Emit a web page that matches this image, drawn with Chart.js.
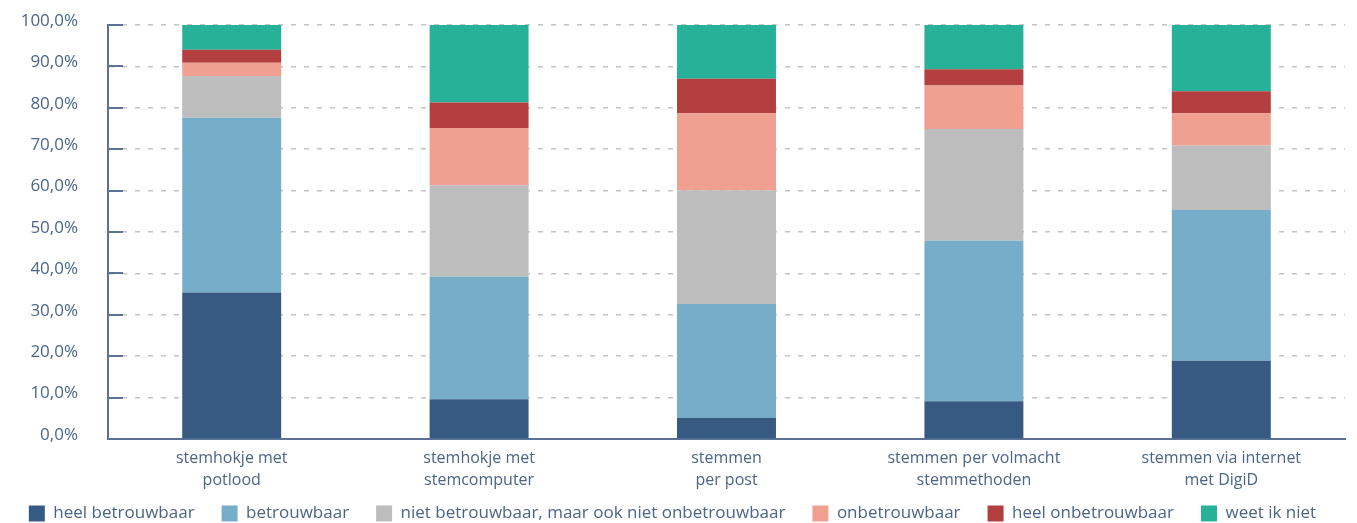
<!DOCTYPE html>
<html>
<head>
    <meta charset="UTF-8">
    <title>Betrouwbaarheid stemmethoden</title>
    <style>
        body {
            margin: 0;
            padding: 0;
            background: #fff;
        }
        .wrap {
            width: 1357px;
            height: 523px;
        }
    </style>
</head>
<body>
    <div class="wrap">
        <canvas id="stemChart" width="1357" height="523"></canvas>
    </div>

    <script src="https://cdn.jsdelivr.net/npm/chart.js"></script>
    <script>
        const categories = [
            ['stemhokje met', 'potlood'],
            ['stemhokje met', 'stemcomputer'],
            ['stemmen', 'per post'],
            ['stemmen per volmacht', 'stemmethoden'],
            ['stemmen via internet', 'met DigiD']
        ];
        const seriesNames = [
            'heel betrouwbaar',
            'betrouwbaar',
            'niet betrouwbaar, maar ook niet onbetrouwbaar',
            'onbetrouwbaar',
            'heel onbetrouwbaar',
            'weet ik niet'
        ];
        const heelBetrouwbaar = [35.4, 9.6, 5.1, 9.1, 18.9];
        const betrouwbaar = [42.2, 29.6, 27.5, 38.8, 36.4];
        const neutraal = [10.1, 22.1, 27.5, 27.0, 15.6];
        const onbetrouwbaar = [3.2, 13.8, 18.6, 10.5, 7.8];
        const heelOnbetrouwbaar = [3.1, 6.2, 8.3, 3.9, 5.3];
        const weetIkNiet = [6.0, 18.7, 13.0, 10.7, 16.0];
        const yTicks = [0, 10, 20, 30, 40, 50, 60, 70, 80, 90, 100];

        const colors = ['#375a82', '#76adc8', '#bdbdbd', '#efa091', '#b33f40', '#28b199'];
        const textColor = '#4b6587';
        const axisColor = '#5a7296';

        const allSeries = [heelBetrouwbaar, betrouwbaar, neutraal, onbetrouwbaar, heelOnbetrouwbaar, weetIkNiet];

        // kleine streepjes aan de binnenkant van de y-as
        const innerTicks = {
            id: 'innerTicks',
            afterDraw(chart) {
                const y = chart.scales.y;
                const left = chart.chartArea.left;
                const ctx = chart.ctx;
                ctx.save();
                ctx.strokeStyle = axisColor;
                ctx.lineWidth = 2;
                y.ticks.forEach(t => {
                    const py = Math.round(y.getPixelForValue(t.value));
                    ctx.beginPath();
                    ctx.moveTo(left, py);
                    ctx.lineTo(left + 15, py);
                    ctx.stroke();
                });
                ctx.restore();
            }
        };

        // legenda iets omhoog, dichter bij de as-labels
        const legendShift = {
            id: 'legendShift',
            afterLayout(chart) {
                chart.legend.top -= 17;
                chart.legend.bottom -= 17;
            }
        };

        const ctx = document.getElementById('stemChart').getContext('2d');
        new Chart(ctx, {
            type: 'bar',
            data: {
                labels: categories,
                datasets: allSeries.map((vals, i) => ({
                    label: seriesNames[i],
                    data: vals,
                    backgroundColor: colors[i],
                    borderWidth: 0,
                    barPercentage: 0.4,
                    categoryPercentage: 1
                }))
            },
            options: {
                responsive: false,
                animation: false,
                layout: {
                    padding: { top: 25, right: 12, left: 0, bottom: -26 }
                },
                scales: {
                    x: {
                        stacked: true,
                        grid: { display: false, drawTicks: false },
                        border: { color: axisColor, width: 2 },
                        ticks: {
                            color: textColor,
                            font: { family: 'Open Sans', size: 16, lineHeight: 1.4 },
                            padding: 8,
                            maxRotation: 0
                        },
                        afterFit(scale) { scale.height = 56; }
                    },
                    y: {
                        stacked: true,
                        min: 0,
                        max: 100,
                        afterBuildTicks(scale) {
                            scale.ticks = yTicks.map(v => ({ value: v }));
                        },
                        grid: {
                            color: '#c4c4c4',
                            lineWidth: 1.5,
                            drawTicks: false
                        },
                        border: { color: axisColor, width: 2, dash: [5, 8] },
                        ticks: {
                            color: textColor,
                            font: { family: 'Open Sans', size: 17 },
                            padding: 30,
                            labelOffset: -4,
                            callback: v => v.toFixed(1).replace('.', ',') + '%'
                        },
                        afterFit(scale) {
                            scale.width = 108;
                            scale.paddingTop = 10;
                            scale.paddingBottom = 10;
                        }
                    }
                },
                plugins: {
                    legend: {
                        position: 'bottom',
                        labels: {
                            color: textColor,
                            font: { family: 'Open Sans', size: 17 },
                            boxWidth: 16,
                            boxHeight: 16,
                            padding: 27
                        }
                    },
                    tooltip: { enabled: false }
                }
            },
            plugins: [innerTicks, legendShift]
        });
    </script>
</body>
</html>
